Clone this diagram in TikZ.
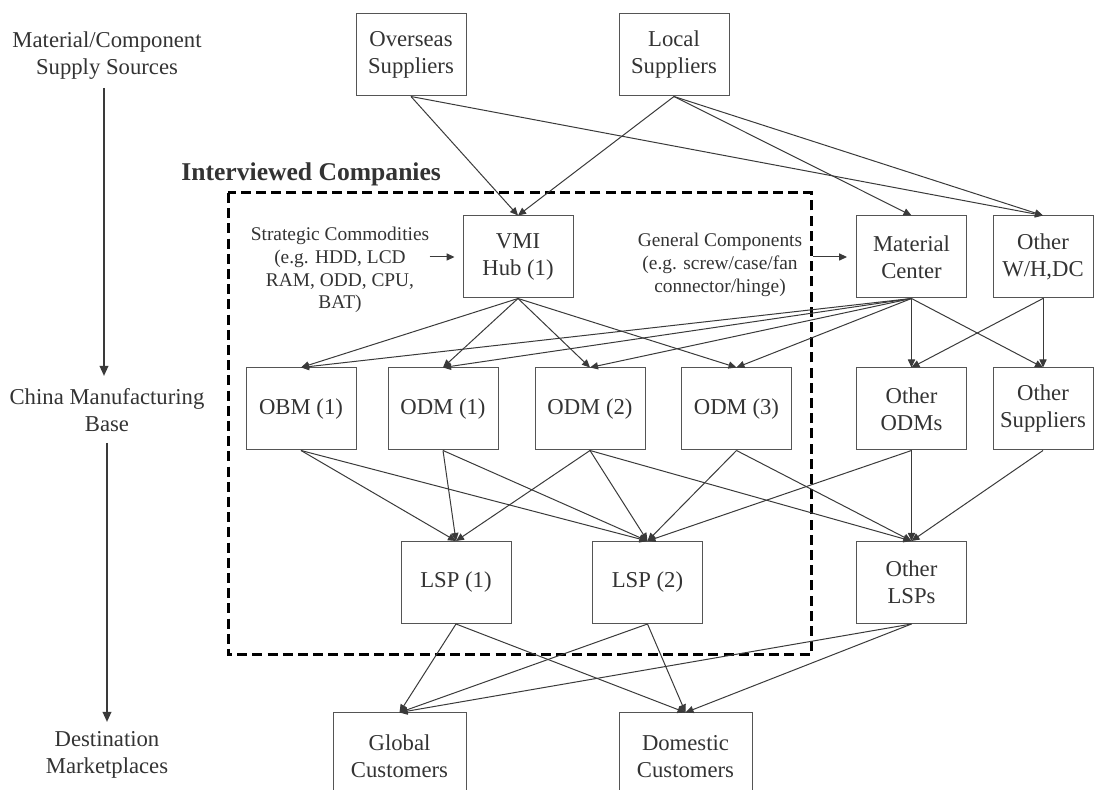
\documentclass[tikz,border=0pt]{standalone}
\usepackage{fontspec}
\setmainfont{Liberation Serif}
\usetikzlibrary{arrows.meta}
\definecolor{ink}{HTML}{333333}
\definecolor{boxline}{HTML}{555555}
\definecolor{edgeline}{HTML}{3A3A3A}
\newcommand\dgmMain{\fontsize{11.35pt}{13.5pt}\selectfont}
\newcommand\dgmSmall{\fontsize{9.7pt}{11.4pt}\selectfont}
\newcommand\dgmBold{\fontsize{12.8pt}{15pt}\selectfont\bfseries}
\begin{document}
\begin{tikzpicture}[x=0.5pt,y=-0.5pt,
  box/.style={draw=boxline, line width=0.5pt, minimum width=55pt, minimum height=41pt,
    inner sep=0pt, align=center, font=\dgmMain, text=ink},
  lbl/.style={inner sep=0pt, align=center, font=\dgmMain, text=ink},
  note/.style={inner sep=0pt, align=center, font=\dgmSmall, text=ink},
  flow/.style={draw=edgeline, line width=0.5pt, -{Triangle[length=4pt,width=3.6pt]}},
  axis/.style={draw=edgeline, line width=1pt, -{Triangle[length=5pt,width=4.2pt]}},
  dashbox/.style={draw=black, line width=1.5pt, dash pattern=on 5pt off 2.6pt}]
\useasboundingbox (0,0) rectangle (1094,790);

% stage labels on the left
\node[lbl] (src) at (107,56) {Material/Component\\Supply Sources};
\node[lbl] (mfg) at (107,410) {China Manufacturing\\Base};
\node[lbl] (dst) at (107,755) {Destination\\Marketplaces};
\coordinate (ax1a) at (104,88);
\coordinate (ax1b) at (104,376);
\coordinate (ax2a) at (107,443);
\coordinate (ax2b) at (107,722);
\draw[axis] (ax1a) -- (ax1b);
\draw[axis] (ax2a) -- (ax2b);

% interviewed companies frame
\node[anchor=west, inner sep=0pt, font=\dgmBold, text=ink] (title) at (181,174) {Interviewed Companies};
\draw[dashbox] (228,193) rectangle (811,655);

% supply sources
\node[box] (over) at (411,55) {Overseas\\Suppliers};
\node[box] (local) at (674,55) {Local\\Suppliers};

% hubs and warehouses
\node[box] (vmi) at (518,257) {VMI\\Hub (1)};
\node[box] (mat) at (911.5,257) {Material\\Center};
\node[box, minimum width=50pt] (owh) at (1043,257) {Other\\W/H,DC};

% manufacturers
\node[box] (obm) at (301,409) {OBM (1)};
\node[box] (odm1) at (443,409) {ODM (1)};
\node[box] (odm2) at (590,409) {ODM (2)};
\node[box] (odm3) at (736.5,409) {ODM (3)};
\node[box] (oodm) at (911.5,409) {Other\\ODMs};
\node[box, minimum width=50pt] (osup) at (1043,409) {Other\\Suppliers};

% logistics providers
\node[box] (lsp1) at (456,582.5) {LSP (1)};
\node[box] (lsp2) at (647.5,582.5) {LSP (2)};
\node[box] (olsp) at (911.5,582.5) {Other\\LSPs};

% customers
\node[box, minimum width=66.5pt, minimum height=43.5pt] (glob) at (399.5,756.5) {Global\\Customers};
\node[box, minimum width=66.5pt, minimum height=43.5pt] (dom) at (685.5,756.5) {Domestic\\Customers};

% commodity notes
\node[note] (strat) at (340,270) {Strategic Commodities\\(e.g. HDD, LCD\\RAM, ODD, CPU,\\BAT)};
\node[note] (gen) at (720,265) {General Components\\(e.g. screw/case/fan\\connector/hinge)};
\draw[flow] (strat.east |- vmi.west) -- ([xshift=-4pt]vmi.west);
\draw[flow] ([xshift=-21.5pt]mat.west) -- ([xshift=-4.5pt]mat.west);

% sources to hubs
\foreach \a/\b in {over/vmi, over/owh, local/vmi, local/mat, local/owh}
  \draw[flow] (\a.south) -- (\b.north);

% hubs to manufacturers
\foreach \a/\b in {vmi/obm, vmi/odm1, vmi/odm2, vmi/odm3,
                   mat/obm, mat/odm1, mat/odm2, mat/odm3, mat/oodm, mat/osup,
                   owh/oodm, owh/osup}
  \draw[flow] (\a.south) -- (\b.north);

% manufacturers to logistics providers
\foreach \a/\b in {obm/lsp1, obm/lsp2, odm1/lsp1, odm1/lsp2,
                   odm2/lsp1, odm2/lsp2, odm2/olsp, odm3/lsp2, odm3/olsp,
                   oodm/lsp2, oodm/olsp, osup/olsp}
  \draw[flow] (\a.south) -- (\b.north);

% logistics providers to customers
\foreach \a/\b in {lsp1/glob, lsp1/dom, lsp2/glob, lsp2/dom, olsp/glob, olsp/dom}
  \draw[flow] (\a.south) -- (\b.north);
\end{tikzpicture}
\end{document}
